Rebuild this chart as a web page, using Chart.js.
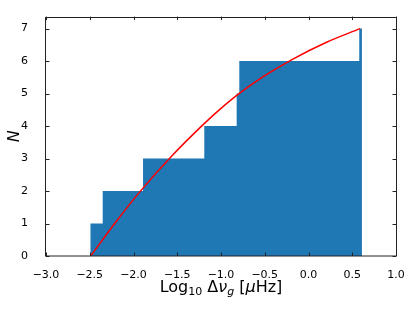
<!DOCTYPE html>
<html>
<head>
<meta charset="utf-8">
<script src="https://cdn.jsdelivr.net/npm/chart.js@4/dist/chart.umd.min.js"></script>
<style>
  html, body { margin: 0; padding: 0; background: #fff; }
  canvas { display: block; }
</style>
</head>
<body>
<canvas id="chart" width="415" height="311"></canvas>
<script>
// tick labels
const xTicks = [-3.0, -2.5, -2.0, -1.5, -1.0, -0.5, 0.0, 0.5, 1.0];
const yTicks = [0, 1, 2, 3, 4, 5, 6, 7];

// cumulative histogram: left edge of each step and the count reached there
const stepEdges = [-2.494, -2.352, -1.891, -1.191, -0.821, -0.791, 0.580, 0.611];
const stepCounts = [1, 2, 3, 4, 5, 6, 7, 7];

// red model curve
const curveX = [-2.489, -2.211, -1.926, -1.560, -1.183, -1.0, -0.783, -0.509, -0.189, 0.2, 0.589];
const curveY = [0, 1.015, 1.982, 3.086, 4.098, 4.545, 5.021, 5.536, 6.048, 6.574, 7.0];

const FONT = '"DejaVu Sans", sans-serif';

// frame, inward ticks on all four sides, axis titles
const framePlugin = {
    id: 'frame',
    afterDatasetsDraw(chart) {
        const ctx = chart.ctx;
        const { left, right, top, bottom } = chart.chartArea;
        const xs = chart.scales.x, ys = chart.scales.y;
        const len = 3.5;
        ctx.save();
        ctx.strokeStyle = '#222';
        ctx.lineWidth = 1;
        ctx.beginPath();
        xTicks.forEach(v => {
            const px = Math.round(xs.getPixelForValue(v)) + 0.5;
            ctx.moveTo(px, bottom); ctx.lineTo(px, bottom - len);
            ctx.moveTo(px, top); ctx.lineTo(px, top + len);
        });
        yTicks.forEach(v => {
            const py = Math.round(ys.getPixelForValue(v)) + 0.5;
            ctx.moveTo(left, py); ctx.lineTo(left + len, py);
            ctx.moveTo(right, py); ctx.lineTo(right - len, py);
        });
        ctx.stroke();
        ctx.strokeRect(Math.round(left) - 0.5, Math.round(top) + 0.5,
            Math.round(right - left) + 1, Math.round(bottom - top) - 0.5);
        ctx.restore();
    },
    afterDraw(chart) {
        const ctx = chart.ctx;
        const { left, right, top, bottom } = chart.chartArea;
        ctx.save();
        ctx.fillStyle = '#000';
        ctx.textBaseline = 'alphabetic';

        // x title with subscripts: Log10 Δν_g [μHz]
        const parts = [
            { t: 'Log', f: '16px ' + FONT, dy: 0 },
            { t: '10', f: '11px ' + FONT, dy: 3 },
            { t: ' Δ', f: '16px ' + FONT, dy: 0 },
            { t: 'ν', f: 'italic 16px ' + FONT, dy: 0 },
            { t: 'g', f: 'italic 11px ' + FONT, dy: 3 },
            { t: ' [', f: '16px ' + FONT, dy: 0 },
            { t: 'μ', f: 'italic 16px ' + FONT, dy: 0 },
            { t: 'Hz]', f: '16px ' + FONT, dy: 0 }
        ];
        let total = 0;
        parts.forEach(p => { ctx.font = p.f; p.w = ctx.measureText(p.t).width; total += p.w; });
        let x = (left + right) / 2 - total / 2;
        const base = 292;
        ctx.textAlign = 'left';
        parts.forEach(p => { ctx.font = p.f; ctx.fillText(p.t, x, base + p.dy); x += p.w; });

        // y title
        ctx.translate(15, (top + bottom) / 2);
        ctx.rotate(-Math.PI / 2);
        ctx.font = 'italic 16px ' + FONT;
        ctx.textAlign = 'center';
        ctx.textBaseline = 'middle';
        ctx.fillText('N', 0, 0);
        ctx.restore();
    }
};

new Chart(document.getElementById('chart'), {
    type: 'line',
    data: {
        datasets: [
            {
                label: 'model',
                data: curveX.map((x, i) => ({ x: x, y: curveY[i] })),
                borderColor: '#ff0000',
                borderWidth: 1.5,
                pointRadius: 0,
                fill: false,
                cubicInterpolationMode: 'monotone',
                order: 1
            },
            {
                label: 'cumulative',
                data: stepEdges.map((x, i) => ({ x: x, y: stepCounts[i] })),
                stepped: true,
                borderWidth: 0,
                borderColor: 'rgba(0,0,0,0)',
                backgroundColor: '#1f77b4',
                pointRadius: 0,
                fill: 'origin',
                order: 2
            }
        ]
    },
    options: {
        responsive: false,
        animation: false,
        devicePixelRatio: 1,
        layout: { padding: { left: 0, right: 19, top: 8, bottom: 0 } },
        plugins: {
            legend: { display: false },
            tooltip: { enabled: false }
        },
        scales: {
            x: {
                type: 'linear',
                min: -3.0,
                max: 1.0,
                grid: { display: false },
                border: { display: false },
                afterBuildTicks: scale => { scale.ticks = xTicks.map(v => ({ value: v })); },
                afterFit: scale => { scale.height = 55; },
                ticks: {
                    color: '#000',
                    padding: 5,
                    maxRotation: 0,
                    autoSkip: false,
                    font: { family: FONT, size: 11 },
                    callback: v => v.toFixed(1).replace('-', '\u2212')
                }
            },
            y: {
                type: 'linear',
                min: 0,
                max: 7.37,
                grid: { display: false },
                border: { display: false },
                afterBuildTicks: scale => { scale.ticks = yTicks.map(v => ({ value: v })); },
                afterFit: scale => { scale.width = 46; },
                ticks: {
                    color: '#000',
                    padding: 10,
                    autoSkip: false,
                    font: { family: FONT, size: 11 },
                    callback: v => String(v)
                }
            }
        }
    },
    plugins: [framePlugin]
});
</script>
</body>
</html>
